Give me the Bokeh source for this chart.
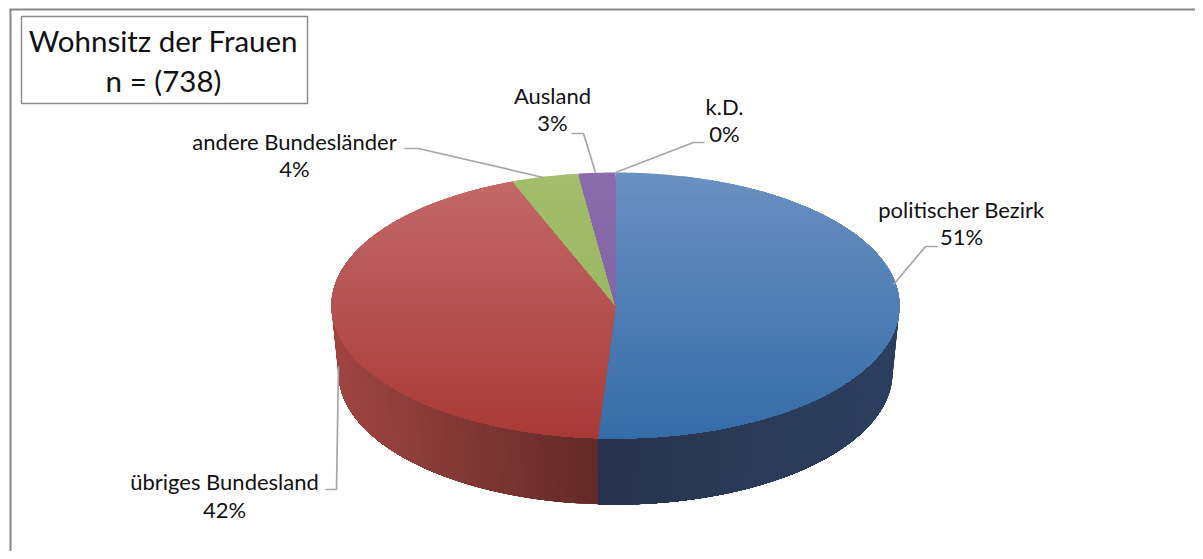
import math
from bokeh.plotting import figure
from bokeh.models import Range1d
from bokeh.core.properties import value
from bokeh.embed import file_html
from bokeh.resources import INLINE

# ---- data ----
categories = ["politischer Bezirk", "übriges Bundesland", "andere Bundesländer", "Ausland", "k.D."]
percent_labels = ["51%", "42%", "4%", "3%", "0%"]
drawn_shares = [51.0, 43.1, 3.8, 2.1, 0.0]   # slice sizes as measured in the picture
title_lines = ["Wohnsitz der Frauen", "n = (738)"]

# ---- layout / style ----
CX, CY, RX, RY = 615.0, 305.0, 284.0, 133.0
BX, BY, BRX, BRY = 615.0, 372.0, 277.0, 132.0
top_colors = [("#6A90C0", "#356CA8"), ("#C4696A", "#A83A37"), ("#A3BE6C", "#93B058"), ("#8A6CAB", "#7C5D9E"), ("#4BACC6", "#4BACC6")]
wall_colors = [("#2D3F60", "#28344E"), ("#A04542", "#622A27"), None, None, None]
label_pos = [(961, 209, 236), (224, 481, 509), (294, 141, 168), (552, 95, 122), (724, 106, 133)]
leaders = [
    [(893, 284), (925, 246), (937, 246)],
    [(338, 366), (336, 489), (325, 489)],
    [(543, 177), (418, 148), (404, 148)],
    [(595, 172), (583, 133), (571, 133)],
    [(615, 172), (693, 142), (704, 142)],
]
FONT = "Lato"


def hexrgb(c):
    return tuple(int(c[i:i + 2], 16) for i in (1, 3, 5))


def mix(a, b, t):
    t = max(0.0, min(1.0, t))
    ca, cb = hexrgb(a), hexrgb(b)
    return "#%02x%02x%02x" % tuple(round(ca[i] + (cb[i] - ca[i]) * t) for i in range(3))


def clip(poly, y, keep_below):
    out = []
    n = len(poly)
    for i in range(n):
        p, q = poly[i], poly[(i + 1) % n]
        pin = p[1] >= y if keep_below else p[1] <= y
        qin = q[1] >= y if keep_below else q[1] <= y
        if pin:
            out.append(p)
        if pin != qin:
            t = (y - p[1]) / (q[1] - p[1])
            out.append((p[0] + (q[0] - p[0]) * t, y))
    return out


p = figure(width=1195, height=551, x_range=Range1d(0, 1195), y_range=Range1d(551, 0),
           output_backend="svg", toolbar_location=None, min_border=0,
           x_axis_location=None, y_axis_location=None, background_fill_color="#FFFFFF",
           border_fill_color="#FFFFFF", outline_line_color=None)
p.grid.visible = False

# frame (only its left and top edges are inside the picture)
p.segment([10, 9], [9, 9], [10, 1195], [551, 9], line_color="#888888", line_width=2)

# slice angles
total = sum(drawn_shares)
starts, ends = [], []
acc = 0.0
for s in drawn_shares:
    starts.append(acc / total * 2 * math.pi)
    acc += s
    ends.append(acc / total * 2 * math.pi)

# side wall as thin overlapping strips
for i, wc in enumerate(wall_colors):
    if wc is None:
        continue
    a0 = max(starts[i], math.pi / 2)
    a1 = min(ends[i], 3 * math.pi / 2)
    n = max(1, int((a1 - a0) / math.radians(1.0)))
    xl = min(CX + RX * math.sin(a0), CX + RX * math.sin(a1))
    xr = max(CX + RX * math.sin(a0), CX + RX * math.sin(a1))
    xs, ys, cols = [], [], []
    # painted from the far end so every strip covers the seam of the one before it
    for k in range(n):
        u0 = a0 + (a1 - a0) * k / n
        u1 = a1
        xs.append([CX + RX * math.sin(u0 + (u1 - u0) * j / 40) for j in range(0, 41)]
                  + [BX + BRX * math.sin(u0 + (u1 - u0) * j / 40) for j in range(40, -1, -1)])
        ys.append([CY - RY * math.cos(u0 + (u1 - u0) * j / 40) for j in range(0, 41)]
                  + [BY - BRY * math.cos(u0 + (u1 - u0) * j / 40) for j in range(40, -1, -1)])
        xm = CX + RX * math.sin(u0 + (a1 - a0) / n / 2)
        t = (xm - xl) / (xr - xl) if i == 1 else (xr - xm) / (xr - xl)
        cols.append(mix(wc[0], wc[1], t))
    p.patches(xs, ys, fill_color=cols, line_color=None)

# top face: every slice cut in overlapping horizontal bands for the vertical gradient
xs, ys, cols = [], [], []
BAND = 4.0
for i, s in enumerate(drawn_shares):
    if s <= 0:
        continue
    n = max(2, int((ends[i] - starts[i]) / math.radians(0.5)))
    poly = [(CX, CY)] + [(CX + RX * math.sin(starts[i] + (ends[i] - starts[i]) * k / n),
                          CY - RY * math.cos(starts[i] + (ends[i] - starts[i]) * k / n)) for k in range(n + 1)]
    y = CY - RY
    while y < CY + RY:
        part = clip(poly, y, True)   # from this band down to the slice's end
        if len(part) >= 3:
            c = mix(top_colors[i][0], top_colors[i][1], (y + BAND / 2 - (CY - RY)) / (2 * RY))
            xs.append([q[0] for q in part])
            ys.append([q[1] for q in part])
            cols.append(c)
        y += BAND
p.patches(xs, ys, fill_color=cols, line_color=None)

# leaders
for pts in leaders:
    p.line([q[0] for q in pts], [q[1] for q in pts], line_color="#A6A6A6", line_width=1.7)

# labels
for name, pct, (lx, y1, y2) in zip(categories, percent_labels, label_pos):
    p.text([lx, lx], [y1, y2], text=[name, pct], text_font=value(FONT), text_font_size="22px",
           text_align="center", text_baseline="middle", text_color="#111111")

# title box
p.quad(left=[21], right=[307], top=[16], bottom=[103], fill_color="#FFFFFF",
       line_color="#8C8C8C", line_width=1.5)
p.text([163, 163], [40, 80], text=title_lines, text_font=value(FONT), text_font_size="29.5px",
       text_align="center", text_baseline="middle", text_color="#111111")

open("out.html", "w").write(file_html(p, INLINE))
